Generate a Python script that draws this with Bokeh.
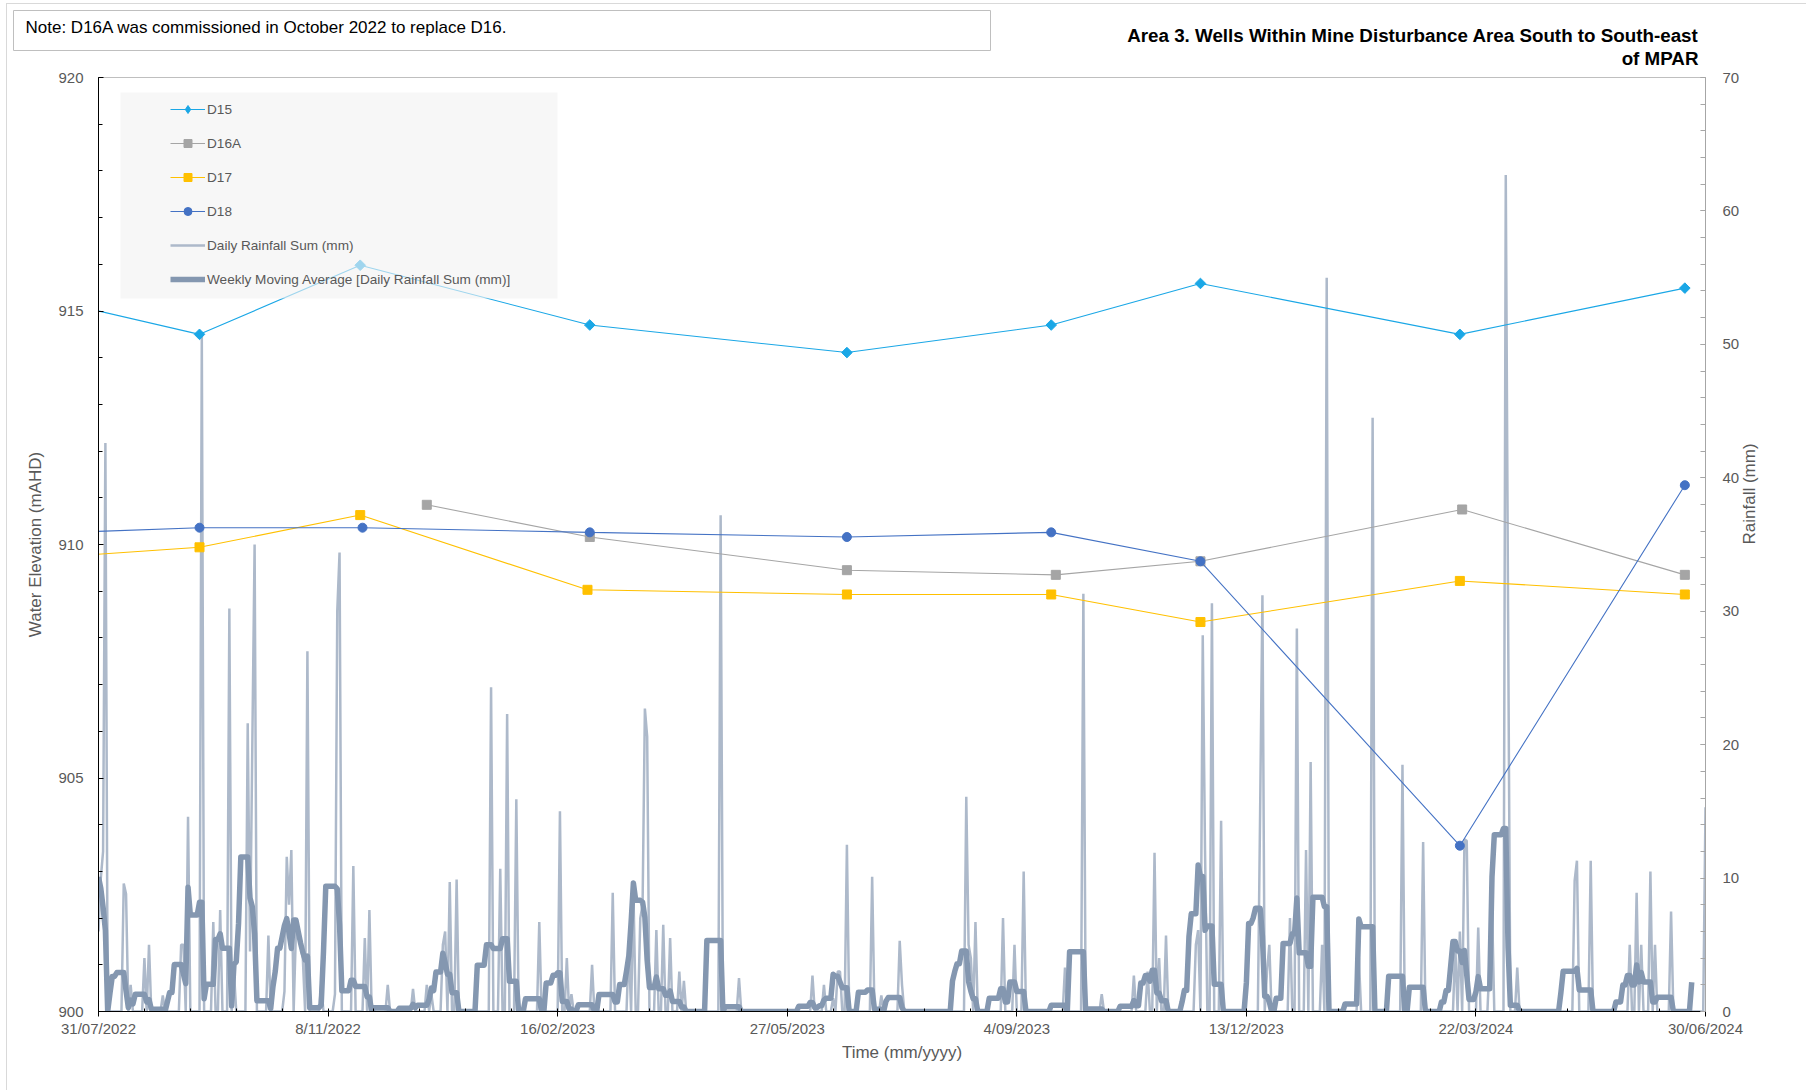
import numpy as np
import pandas as pd
from datetime import datetime
from bokeh.plotting import figure
from bokeh.layouts import column
from bokeh.models import (Range1d, LinearAxis, FixedTicker, Legend, LegendItem,
                          Label, BoxAnnotation)
from bokeh.embed import file_html
from bokeh.resources import INLINE

FONT = "Liberation Sans"
TXT = "#595959"

# ---------------- data ----------------
x_tick_labels = ["31/07/2022", "8/11/2022", "16/02/2023", "27/05/2023",
                 "4/09/2023", "13/12/2023", "22/03/2024", "30/06/2024"]
elev_ticks = [900, 905, 910, 915, 920]
rain_ticks = [0, 10, 20, 30, 40, 50, 60, 70]

# groundwater levels (mAHD)
d15_dates = ["2022-07-24", "2022-09-13", "2022-11-22", "2023-03-02", "2023-06-22",
             "2023-09-19", "2023-11-23", "2024-03-15", "2024-06-21"]
d15_mahd = [915.08, 914.50, 915.98, 914.70, 914.11, 914.70, 915.59, 914.50, 915.49]

d16a_dates = ["2022-12-21", "2023-03-02", "2023-06-22", "2023-09-21", "2023-11-23",
              "2024-03-16", "2024-06-21"]
d16a_mahd = [910.85, 910.16, 909.45, 909.35, 909.64, 910.75, 909.35]

d17_dates = ["2022-07-24", "2022-09-13", "2022-11-22", "2023-03-01", "2023-06-22",
             "2023-09-19", "2023-11-23", "2024-03-15", "2024-06-21"]
d17_mahd = [909.77, 909.94, 910.63, 909.03, 908.93, 908.93, 908.34, 909.22, 908.93]

d18_dates = ["2022-07-24", "2022-09-13", "2022-11-23", "2023-03-02", "2023-06-22",
             "2023-09-19", "2023-11-23", "2024-03-15", "2024-06-21"]
d18_mahd = [910.27, 910.36, 910.36, 910.26, 910.16, 910.26, 909.64, 903.55, 911.27]

# daily rainfall: wet days only, as day number counted from 31/07/2022 (all other days 0 mm)
rain_start = "2022-07-31"
rain_days_total = 701
rain_day = [0, 1, 2, 3, 11, 12, 14, 20, 22, 28, 36, 37, 39, 45, 50, 53, 57, 59,
            65, 66, 67, 68, 74, 81, 82, 83, 84, 86, 87, 88, 89, 91, 97, 103, 104, 105,
            111, 116, 118, 126, 137, 143, 145, 150, 151, 153, 156, 171, 175, 178, 182,
            192, 201, 204, 206, 215, 224, 231, 233, 236, 237, 238, 239, 243, 246, 249,
            253, 255, 271, 279, 311, 316, 320, 322, 323, 326, 337, 341, 349, 350,
            378, 379, 380, 382, 394, 399, 403, 421, 429, 437, 451, 457, 460, 462, 465,
            478, 479, 481, 482, 485, 489, 506, 507, 509, 510, 519, 522, 526, 528, 533,
            535, 549, 555, 568, 577, 591, 593, 595, 596, 601, 606, 607, 613, 614, 618,
            643, 644, 650, 667, 670, 672, 676, 678, 685, 700]
rain_mm = [6, 10, 12, 42.6, 9.6, 8.8, 2, 4, 5, 1.2, 5, 5, 14.6, 50.6, 6.7, 7.6, 30.2, 3,
           21.6, 4.5, 20, 35, 5.7, 1.5, 11.6, 8, 12.1, 6, 6, 5, 4, 27, 2, 1.3, 30, 34.4,
           10.9, 5.5, 7.6, 2, 1.7, 2, 1.3, 5, 6, 9.7, 9.9, 24.3, 10.7, 22.3, 15.9,
           6.7, 15, 4, 1.3, 3.5, 8.9, 5, 9.1, 7, 8, 22.7, 20.6, 6.1, 6.5, 5.5,
           3, 2.3, 37.2, 2.5, 2.7, 2, 1, 3, 3, 12.5, 10.1, 1.2, 5.3, 2,
           16.1, 5, 4, 6.7, 7, 5, 10.5, 3.3, 31.3, 1.3, 2.7, 3, 11.9, 4, 5.7,
           5, 6.1, 28.2, 12, 30.6, 14.3, 15, 31.2, 3, 5, 7, 28.7, 12.1, 18.7, 5,
           55, 4, 44.5, 18.5, 12.7, 5, 6, 12.9, 12.8, 6.3, 4, 8, 62.7, 30, 3.3,
           9.8, 11.3, 11.3, 5, 8.9, 5, 10.5, 5, 7.5, 15.3]

# ---------------- derived series ----------------
rain_dates = pd.date_range(rain_start, periods=rain_days_total, freq="D")
daily = np.zeros(rain_days_total)
daily[np.array(rain_day)] = rain_mm
# weekly moving average (7 day window starting on each day)
weekly = pd.Series(daily).rolling(7).mean().shift(-6).to_numpy()

tick_dt = [datetime.strptime(s, "%d/%m/%Y") for s in x_tick_labels]
tick_ms = [int(pd.Timestamp(d).value // 10**6) for d in tick_dt]
minor_ms = [int(pd.Timestamp(d).value // 10**6)
            for d in pd.date_range(tick_dt[0], tick_dt[-1], freq="20D")]

# ---------------- page geometry ----------------
PAGE_W, PAGE_H = 1806, 1090
PAD_L, PAD_T = 7, 4          # outer margin + 1px chart-area border
HEAD_H = 64                  # header strip (note + title)
FIG_W = PAGE_W - PAD_L
MAIN_H = PAGE_H - PAD_T - HEAD_H

# ---------------- header (note box + title) ----------------
head = figure(width=FIG_W, height=HEAD_H, x_range=Range1d(0, FIG_W),
              y_range=Range1d(0, HEAD_H), output_backend="svg", toolbar_location=None,
              x_axis_location=None, y_axis_location=None,
              min_border=0, min_border_left=0, min_border_right=0,
              min_border_top=0, min_border_bottom=0,
              outline_line_color=None, background_fill_color="white",
              border_fill_color="white")
head.grid.visible = False

head.add_layout(BoxAnnotation(left=6, right=983, top=58, bottom=18,
                              left_units="screen", right_units="screen",
                              top_units="screen", bottom_units="screen",
                              fill_color="white", fill_alpha=1,
                              line_color="#bfbfbf", line_alpha=1, line_width=1))
head.add_layout(Label(x=18, y=41, x_units="screen", y_units="screen",
                      text="Note: D16A was commissioned in October 2022 to replace D16.",
                      text_font=FONT, text_font_size="17px", text_color="black",
                      text_baseline="middle", text_align="left"))
head.add_layout(Label(x=1691, y=33, x_units="screen", y_units="screen",
                      text="Area 3. Wells Within Mine Disturbance Area South to South-east",
                      text_font=FONT, text_font_size="18.8px", text_font_style="bold",
                      text_color="black", text_baseline="middle", text_align="right"))
head.add_layout(Label(x=1691, y=10, x_units="screen", y_units="screen",
                      text="of MPAR",
                      text_font=FONT, text_font_size="18.8px", text_font_style="bold",
                      text_color="black", text_baseline="middle", text_align="right"))

# ---------------- main chart ----------------
p = figure(width=FIG_W, height=MAIN_H, x_axis_type="datetime",
           x_range=Range1d(tick_dt[0], tick_dt[-1]),
           y_range=Range1d(elev_ticks[0], elev_ticks[-1]),
           output_backend="svg", toolbar_location=None,
           min_border_left=91, min_border_right=101,
           min_border_top=9, min_border_bottom=79,
           background_fill_color="white", border_fill_color="white",
           outline_line_color="#bfbfbf", outline_line_width=1)
p.grid.visible = False
p.extra_y_ranges = {"rain": Range1d(rain_ticks[0], rain_ticks[-1])}

# the header keeps its own full-width frame instead of lining up with the chart frame
for fig in (head, p):
    try:
        fig.frame_align = False
    except AttributeError:
        pass

# rainfall (right axis)
r_daily = p.line(rain_dates, daily, y_range_name="rain",
                 line_color="#adb9ca", line_width=2.5)
r_week = p.line(rain_dates, weekly, y_range_name="rain",
                line_color="#8497b0", line_width=5.5, line_join="round")


C15, C16, C17, C18 = "#1aa7e6", "#a5a5a5", "#ffc000", "#4472c4"


def well_line(dates, vals, color):
    return p.line(pd.to_datetime(dates), vals, line_color=color, line_width=1.1)


def well_marks(dates, vals, color, marker, size, angle=0.0):
    return p.scatter(pd.to_datetime(dates), vals, marker=marker, size=size, angle=angle,
                     fill_color=color, line_color=color)


l15 = well_line(d15_dates, d15_mahd, C15)
k15 = well_marks(d15_dates, d15_mahd, C15, "diamond", 8)          # legend key shape
s15 = well_marks(d15_dates, d15_mahd, C15, "square", 7.5, np.pi / 4)
l16 = well_line(d16a_dates, d16a_mahd, C16)
s16 = well_marks(d16a_dates, d16a_mahd, C16, "square", 9)
l17 = well_line(d17_dates, d17_mahd, C17)
s17 = well_marks(d17_dates, d17_mahd, C17, "square", 9)
l18 = well_line(d18_dates, d18_mahd, C18)
s18 = well_marks(d18_dates, d18_mahd, C18, "circle", 9)

# ---------------- axes ----------------
xa = p.xaxis[0]
xa.ticker = FixedTicker(ticks=tick_ms, minor_ticks=minor_ms)
xa.major_label_overrides = {t: s for t, s in zip(tick_ms, x_tick_labels)}
xa.axis_label = "Time (mm/yyyy)"
xa.axis_line_color = "black"
xa.major_tick_line_color = "black"
xa.minor_tick_line_color = "black"
xa.major_tick_out = 5
xa.major_tick_in = 0
xa.minor_tick_in = 3
xa.minor_tick_out = 0
xa.major_label_standoff = 3
xa.axis_label_standoff = 3

ya = p.yaxis[0]
ya.ticker = FixedTicker(ticks=elev_ticks,
                        minor_ticks=list(range(elev_ticks[0], elev_ticks[-1] + 1)))
ya.axis_label = "Water Elevation (mAHD)"
ya.axis_line_color = "black"
ya.major_tick_line_color = "black"
ya.minor_tick_line_color = "black"
ya.major_tick_in = 5
ya.major_tick_out = 0
ya.minor_tick_in = 4
ya.minor_tick_out = 0
ya.major_label_standoff = 15
ya.axis_label_standoff = 10

ra = LinearAxis(y_range_name="rain", axis_label="Rainfall (mm)",
                ticker=FixedTicker(ticks=rain_ticks,
                                   minor_ticks=list(range(rain_ticks[0], rain_ticks[-1] + 1, 2))))
ra.axis_line_color = "#a6a6a6"
ra.major_tick_line_color = "#a6a6a6"
ra.minor_tick_line_color = "#a6a6a6"
ra.major_tick_in = 5
ra.major_tick_out = 0
ra.minor_tick_in = 5
ra.minor_tick_out = 0
ra.major_label_standoff = 17
ra.axis_label_standoff = 7
ra.axis_label_orientation = np.pi / 2
p.add_layout(ra, "right")

for ax in (xa, ya, ra):
    ax.major_label_text_font = FONT
    ax.major_label_text_font_size = "15px"
    ax.major_label_text_color = TXT
    ax.axis_label_text_font = FONT
    ax.axis_label_text_font_size = "17px"
    ax.axis_label_text_font_style = "normal"
    ax.axis_label_text_color = TXT

# ---------------- legend ----------------
p.add_layout(BoxAnnotation(left=22, right=459, top=919, bottom=713,
                           left_units="screen", right_units="screen",
                           top_units="screen", bottom_units="screen",
                           fill_color="#f2f2f2", fill_alpha=0.62, line_alpha=0))

legend = Legend(items=[
    LegendItem(label="D15", renderers=[l15, k15]),
    LegendItem(label="D16A", renderers=[l16, s16]),
    LegendItem(label="D17", renderers=[l17, s17]),
    LegendItem(label="D18", renderers=[l18, s18]),
    LegendItem(label="Daily Rainfall Sum (mm)", renderers=[r_daily]),
    LegendItem(label="Weekly Moving Average [Daily Rainfall Sum (mm)]", renderers=[r_week]),
], location=(72, 722))
legend.padding = 0
legend.margin = 0
legend.spacing = 14
legend.label_height = 20
legend.glyph_height = 20
legend.glyph_width = 35
legend.label_standoff = 2
legend.background_fill_alpha = 0
legend.border_line_color = None
legend.label_text_font = FONT
legend.label_text_font_size = "13.6px"
legend.label_text_color = TXT
p.add_layout(legend)

page = column(head, p, spacing=0,
              styles={"margin-left": "6px", "margin-top": "3px",
                      "border-left": "1px solid #d9d9d9",
                      "border-top": "1px solid #d9d9d9"})

open("out.html", "w").write(file_html(page, INLINE))
